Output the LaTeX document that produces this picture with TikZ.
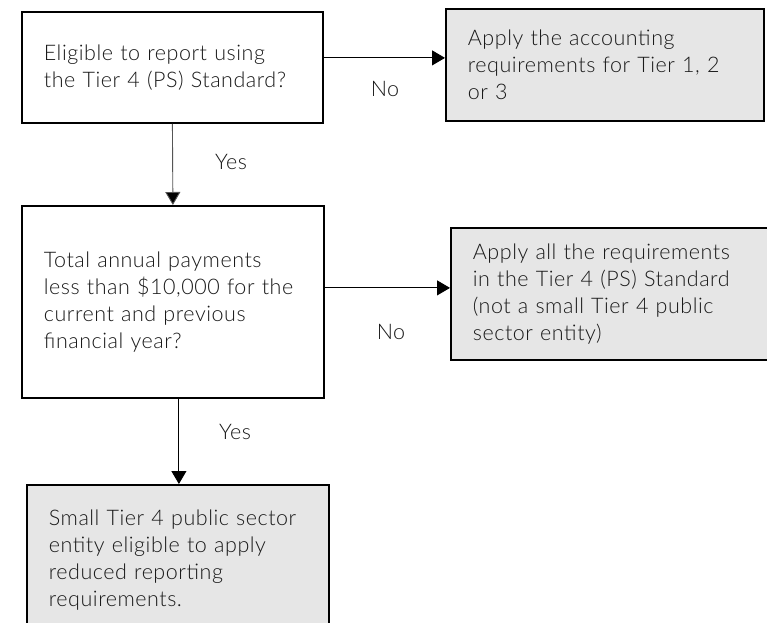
\documentclass[tikz,border=0pt]{standalone}
\usepackage{fontspec}
\setmainfont{Lato Light}[LetterSpace=2.5]
\usetikzlibrary{arrows.meta}
\definecolor{boxgray}{HTML}{E6E6E6}
\definecolor{txt}{HTML}{1A1A1A}
\definecolor{linegray}{HTML}{555555}
\begin{document}
\begin{tikzpicture}[x=1bp,y=-1bp,
  every node/.style={font=\fontsize{21.5bp}{27.2bp}\selectfont, text=txt},
  box/.style={draw=black, line width=1.8bp, rectangle, anchor=north west,
    inner xsep=22bp, inner ysep=0pt, align=left},
  result/.style={box, fill=boxgray},
  conn/.style={line width=0.9bp, -{Triangle[length=13bp,width=15bp]}},
  lbl/.style={inner sep=0pt}]
\clip (0,0) rectangle (767,623);
\fill[white] (0,0) rectangle (767,623);
\node[box, minimum width=301bp, minimum height=111bp, text width=257bp] (q1) at (21,11)
  {Eligible to report using\\the Tier 4 (PS) Standard?};
\node[result, minimum width=318bp, minimum height=112bp, text width=274bp] (a1) at (445,8)
  {Apply the accounting\\requirements for Tier 1, 2\\or 3};
\node[box, minimum width=302bp, minimum height=192bp, text width=258bp] (q2) at (21,205)
  {Total annual payments\\less than \$10,000 for the\\current and previous\\financial year?};
\node[result, minimum width=330bp, minimum height=132bp, text width=286bp] (a2) at (450,227)
  {Apply all the requirements\\in the Tier 4 (PS) Standard\\(not a small Tier 4 public\\sector entity)};
\node[result, minimum width=302bp, minimum height=150bp, text width=258bp] (a3) at (26,484)
  {Small Tier 4 public sector\\entity eligible to apply\\reduced reporting\\requirements.};
\draw[conn] ([yshift=9.5bp]q1.east) -- ([yshift=9.5bp]q1.east -| a1.west);
\draw[conn, draw=linegray, -{Triangle[length=13bp,width=15bp,fill=black]}] (q1.south) -- (q2.north);
\draw[conn] ([yshift=14bp]q2.east) -- ([yshift=14bp]q2.east -| a2.west);
\draw[conn] ([xshift=6bp]q2.south) -- ([xshift=6bp]q2.south |- a3.north);
\node[lbl] (no1) at (385,89) {No};
\node[lbl] (yes1) at (231,162) {Yes};
\node[lbl] (no2) at (391,332) {No};
\node[lbl] (yes2) at (235,432) {Yes};
\end{tikzpicture}
\end{document}
